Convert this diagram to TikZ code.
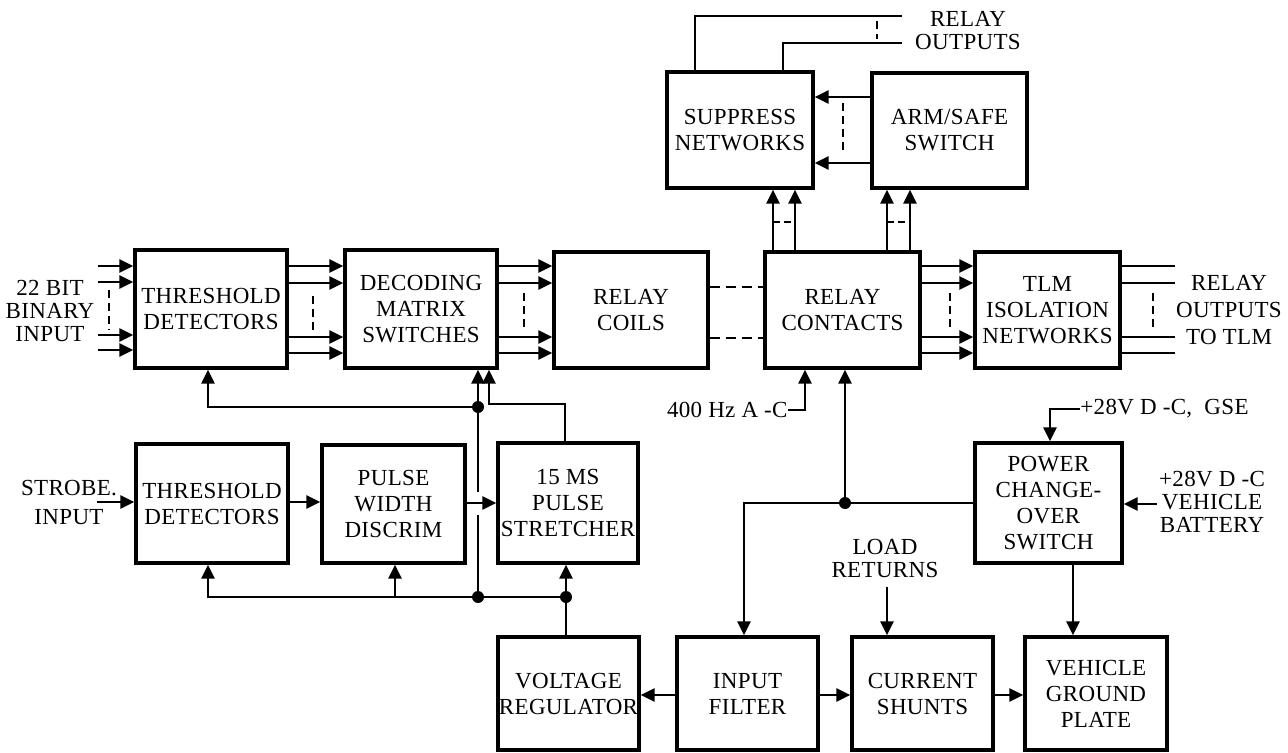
\documentclass[tikz,border=0pt]{standalone}
\usepackage{fontspec}
\setmainfont{Liberation Serif}[LetterSpace=1.5]
\usetikzlibrary{arrows.meta,calc}
\begin{document}
\begin{tikzpicture}[x=0.5pt,y=-0.5pt,
  box/.style={draw, line width=1.7pt, inner sep=0pt, align=center, font=\fontsize{11.5}{13}\selectfont},
  lbl/.style={inner sep=0pt, align=center, font=\fontsize{11.5}{11.5}\selectfont},
  con/.style={line width=1.3pt},
  arr/.style={con, -{Triangle[length=7pt,width=6.5pt]}},
  dsh/.style={line width=1.3pt, dash pattern=on 4pt off 2.5pt},
  dshh/.style={line width=1.3pt, dash pattern=on 5pt off 3pt},
  dot/.style={fill, circle, inner sep=0pt, minimum size=6pt}]
\useasboundingbox (0,0) rectangle (1288,753);

% boxes
\node[box, minimum width=76pt, minimum height=59pt] (thr1) at (211,309) {THRESHOLD\\DETECTORS};
\node[box, minimum width=76pt, minimum height=59pt] (dec) at (421,309) {DECODING\\MATRIX\\SWITCHES};
\node[box, minimum width=77pt, minimum height=58pt] (coil) at (631,310) {RELAY\\COILS};
\node[box, minimum width=77.5pt, minimum height=58pt] (cont) at (842.5,310) {RELAY\\CONTACTS};
\node[box, minimum width=72.5pt, minimum height=58pt] (tlm) at (1047.5,310) {TLM\\ISOLATION\\NETWORKS};
\node[box, minimum width=73pt, minimum height=58pt] (sup) at (740,130) {SUPPRESS\\NETWORKS};
\node[box, minimum width=77.5pt, minimum height=57.5pt] (arm) at (949.5,130.5) {ARM/SAFE\\SWITCH};
\node[box, minimum width=76pt, minimum height=59.5pt] (thr2) at (212,503.5) {THRESHOLD\\DETECTORS};
\node[box, minimum width=71.5pt, minimum height=59pt] (pwd) at (393.5,504) {PULSE\\WIDTH\\DISCRIM};
\node[box, minimum width=70pt, minimum height=60pt] (str) at (568,503) {15 MS\\PULSE\\STRETCHER};
\node[box, minimum width=73.5pt, minimum height=60pt] (pwr) at (1048.5,503) {POWER\\CHANGE-\\OVER\\SWITCH};
\node[box, minimum width=70.5pt, minimum height=56.5pt] (vreg) at (568.5,693.5) {VOLTAGE\\REGULATOR};
\node[box, minimum width=70.5pt, minimum height=56.5pt] (filt) at (747.5,693.5) {INPUT\\FILTER};
\node[box, minimum width=70.5pt, minimum height=56.5pt] (shunt) at (922.5,693.5) {CURRENT\\SHUNTS};
\node[box, minimum width=71pt, minimum height=56.5pt] (gnd) at (1096,693.5) {VEHICLE\\GROUND\\PLATE};

% labels
\node[lbl] (bin) at (50,311) {22 BIT\\BINARY\\INPUT};
\node[lbl, font=\fontsize{11.5}{13.5}\selectfont] (tlmt) at (1229,310) {RELAY\\OUTPUTS\\TO TLM};
\node[lbl] (rot) at (968,31) {RELAY\\OUTPUTS};
\node[lbl, font=\fontsize{11.5}{14.5}\selectfont] (strb) at (69,502) {STROBE.\\INPUT};
\node[lbl, anchor=east] (hz) at (788,410) {400 Hz A -C};
\node[lbl, anchor=west] (gse) at (1080,409) {+28V D -C,\ \ GSE};
\node[lbl] (bat) at (1212,502) {+28V D -C\\VEHICLE\\BATTERY};
\node[lbl] (lr) at (885,558) {LOAD\\RETURNS};

% binary inputs
\foreach \y/\n in {266/1,282/2,335/3,350/4}{
  \coordinate (in\n) at (98,\y);
  \draw[arr] (in\n) -- (thr1.west |- in\n);
}
\draw[dsh] (109,290) -- (109,330);

% bus arrows
\foreach \y in {266,283,337,353}{
  \draw[arr] (thr1.east |- 0,\y) -- (dec.west |- 0,\y);
  \draw[arr] (dec.east |- 0,\y) -- (coil.west |- 0,\y);
  \draw[arr] (cont.east |- 0,\y) -- (tlm.west |- 0,\y);
  \coordinate (to\y) at (1175,\y);
  \draw[con] (tlm.east |- to\y) -- (to\y);
}
\draw[dsh] (313,296) -- (313,330);
\draw[dsh] (524,293) -- (524,330);
\draw[dsh] (950,293) -- (950,330);
\draw[dsh] (1153,293) -- (1153,330);

% coils to contacts
\draw[dshh] (coil.east |- 0,287) -- (cont.west |- 0,287);
\draw[dshh] (coil.east |- 0,338) -- (cont.west |- 0,338);

% contacts up to suppress and arm/safe
\foreach \x in {773,795}{\draw[arr] (cont.north -| \x,0) -- (sup.south -| \x,0);}
\foreach \x in {887,910}{\draw[arr] (cont.north -| \x,0) -- (arm.south -| \x,0);}
\draw[line width=1.3pt, dash pattern=on 3.5pt off 2pt] (773,222) -- (795,222);
\draw[line width=1.3pt, dash pattern=on 3.5pt off 2pt] (887,222) -- (910,222);

% arm/safe to suppress
\draw[arr] (arm.west |- 0,97) -- (sup.east |- 0,97);
\draw[arr] (arm.west |- 0,163) -- (sup.east |- 0,163);
\draw[dsh] (843,103) -- (843,153);

% relay outputs
\coordinate (ro1) at (902,16);
\coordinate (ro2) at (902,43);
\draw[con] (sup.north -| 695,0) |- (ro1);
\draw[con] (sup.north -| 783,0) |- (ro2);
\draw[dsh] (877,21) -- (877,39);

% feedback / supply network
\node[dot] (A) at (478,407) {};
\node[dot] (B) at (478,597) {};
\node[dot] (C) at (566,597) {};
\draw[arr] (A) -- (dec.south -| A);
\draw[arr] (A) -| (thr1.south -| 208,0);
\draw[con] (A) -- (478,492);
\draw[con] (478,515) -- (B);
\coordinate (k) at (489,404);
\draw[arr] (str.north -| 565,0) |- (k) -- (dec.south -| k);
\draw[arr] (C) -- (str.south -| C);
\draw[con] (vreg.north -| C) -- (C);
\draw[con] (C) -- (B);
\draw[arr] (B) -| (thr2.south -| 208,0);
\coordinate (pw) at (395,597);
\draw[arr] (pw) -- (pwd.south -| pw);

% strobe chain
\coordinate (sin) at (97,502);
\draw[arr] (sin) -- (thr2.west |- sin);
\draw[arr] (thr2.east |- 0,502) -- (pwd.west |- 0,502);
\draw[arr] (pwd.east |- 0,503) -- (str.west |- 0,503);

% 400 Hz
\draw[arr] (hz.east) -| (cont.south -| 805,0);

% power distribution
\node[dot] (D) at (845,503) {};
\draw[arr] (D) -- (cont.south -| D);
\draw[con] (pwr.west |- D) -- (D);
\draw[arr] (D) -| (filt.north -| 744,0);
\draw[arr] (gse.west) -| (pwr.north -| 1050,0);
\coordinate (bt) at (1157,504);
\draw[arr] (bt) -- (pwr.east |- bt);
\draw[arr] (pwr.south -| 1073,0) -- (gnd.north -| 1073,0);
\coordinate (lrs) at (887,587);
\draw[arr] (lrs) -- (shunt.north -| lrs);

% bottom row
\draw[arr] (filt.west |- 0,695) -- (vreg.east |- 0,695);
\draw[arr] (filt.east |- 0,695) -- (shunt.west |- 0,695);
\draw[arr] (shunt.east |- 0,695) -- (gnd.west |- 0,695);
\end{tikzpicture}
\end{document}
